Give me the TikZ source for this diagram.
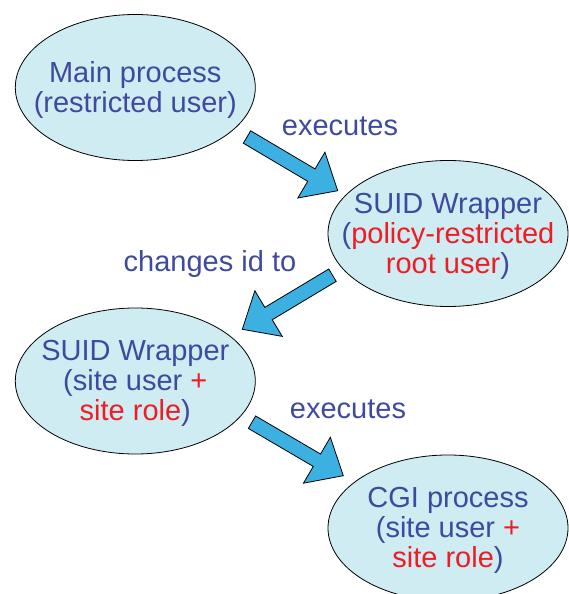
\documentclass[tikz,border=0pt]{standalone}
\usepackage{fontspec}
\setmainfont{Liberation Sans}
\usetikzlibrary{shapes.geometric,calc}
\definecolor{txtblue}{HTML}{3F4A9F}
\definecolor{txtred}{HTML}{EE1C25}
\definecolor{ellfill}{HTML}{CFECF2}
\definecolor{arrowfill}{HTML}{3DB0E2}
\newcommand{\blockarrow}[2]{%
  \coordinate (h) at ($(#2)!30.6pt!(#1)$);
  \draw[barrow] ($(#1)!7.2pt!90:(#2)$) -- ($(h)!7.2pt!90:(#2)$) -- ($(h)!26.6pt!90:(#2)$)
     -- (#2) -- ($(h)!26.6pt!-90:(#2)$) -- ($(h)!7.2pt!-90:(#2)$) -- ($(#1)!7.2pt!-90:(#2)$) -- cycle;
}
\begin{document}
\begin{tikzpicture}[x=1pt,y=-1pt,
  proc/.style={ellipse, draw=black, line width=0.8pt, fill=ellfill, minimum width=240pt, minimum height=146pt, inner sep=0pt},
  ptext/.style={text=txtblue, align=center, font=\fontsize{29}{30}\selectfont, inner sep=0pt, yshift=-2.5pt},
  lbl/.style={text=txtblue, font=\fontsize{29}{30}\selectfont, inner sep=0pt, anchor=base},
  barrow/.style={draw=black, line width=0.8pt, fill=arrowfill, line join=miter}]
\useasboundingbox (0,0) rectangle (568,594);
\node[proc] (main) at (135.3,87.5) {};
\node[proc] (wrap1) at (448,233.5) {};
\node[proc] (wrap2) at (135.3,381) {};
\node[proc] (cgi) at (448,528) {};
\node[ptext] (maint) at (main) {Main process\\(restricted user)};
\node[ptext] (wrap1t) at (wrap1) {SUID Wrapper\\(\textcolor{txtred}{policy-restricted}\\\textcolor{txtred}{root user})};
\node[ptext] (wrap2t) at (wrap2) {SUID Wrapper\\(site user \textcolor{txtred}{+}\\\textcolor{txtred}{site role})};
\node[ptext] (cgit) at (cgi) {CGI process\\(site user \textcolor{txtred}{+}\\\textcolor{txtred}{site role})};
\node[lbl] (l1) at (340,135) {executes};
\node[lbl] (l2) at (210,271.7) {changes id to};
\node[lbl] (l3) at (348,418) {executes};
\coordinate (a1s) at (247,137);
\coordinate (a1e) at (337.7,190.7);
\coordinate (a2s) at (332.5,275.2);
\coordinate (a2e) at (242.3,329.3);
\coordinate (a3s) at (252,422.2);
\coordinate (a3e) at (343.3,475.7);
\blockarrow{a1s}{a1e}
\blockarrow{a2s}{a2e}
\blockarrow{a3s}{a3e}
\end{tikzpicture}
\end{document}
